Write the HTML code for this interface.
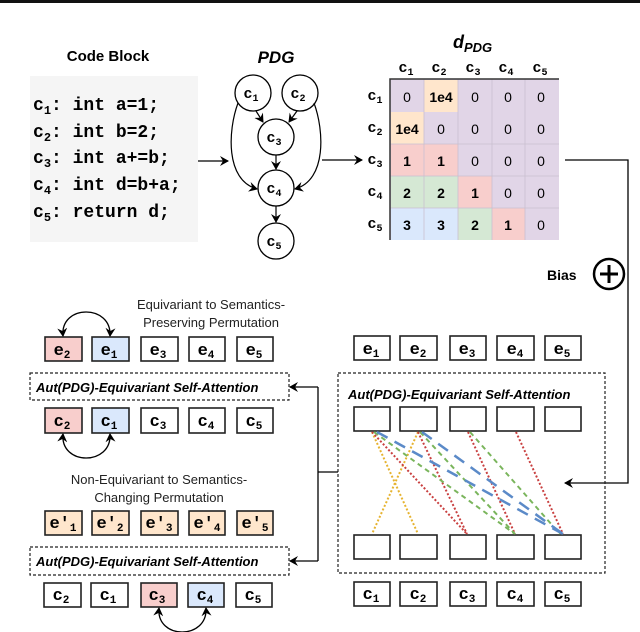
<!DOCTYPE html>
<html><head><meta charset="utf-8"><style>
html,body{margin:0;padding:0;background:#fff;}
svg{display:block}
.mono{font-family:"Liberation Mono",monospace;font-weight:bold}
.sans{font-family:"Liberation Sans",sans-serif}
</style></head><body>
<svg width="640" height="632" viewBox="0 0 640 632" xmlns="http://www.w3.org/2000/svg">
<defs>
<marker id="a" markerWidth="10" markerHeight="10" refX="8" refY="5" orient="auto-start-reverse" markerUnits="userSpaceOnUse">
<path d="M0,0 L9,5 L0,10 L3,5 z" fill="#000"/></marker>
</defs>
<rect x="0" y="0" width="640" height="3" fill="#111"/>
<!-- Code block -->
<text x="108" y="61" class="sans" font-weight="bold" font-size="15" text-anchor="middle">Code Block</text>
<rect x="30" y="76" width="168" height="166" fill="#f5f5f5"/>
<g class="mono" font-size="18">
<text x="33" y="110">c<tspan font-size="12" dy="4">1</tspan><tspan dy="-4">: int a=1;</tspan></text>
<text x="33" y="137">c<tspan font-size="12" dy="4">2</tspan><tspan dy="-4">: int b=2;</tspan></text>
<text x="33" y="163">c<tspan font-size="12" dy="4">3</tspan><tspan dy="-4">: int a+=b;</tspan></text>
<text x="33" y="190">c<tspan font-size="12" dy="4">4</tspan><tspan dy="-4">: int d=b+a;</tspan></text>
<text x="33" y="217">c<tspan font-size="12" dy="4">5</tspan><tspan dy="-4">: return d;</tspan></text>
</g>
<line x1="198" y1="161" x2="228" y2="161" stroke="#000" stroke-width="1.3" marker-end="url(#a)"/>
<!-- PDG -->
<text x="276" y="63" class="sans" font-weight="bold" font-style="italic" font-size="17" text-anchor="middle">PDG</text>
<g fill="#fff" stroke="#000" stroke-width="1.3">
<circle cx="253" cy="93" r="18"/><circle cx="300" cy="93" r="18"/>
<circle cx="276" cy="137" r="18"/><circle cx="276" cy="188" r="18"/><circle cx="276" cy="241" r="18"/>
</g>
<g class="mono" font-size="15" text-anchor="middle">
<text x="251" y="98">c<tspan font-size="10" dy="3">1</tspan></text>
<text x="298" y="98">c<tspan font-size="10" dy="3">2</tspan></text>
<text x="274" y="142">c<tspan font-size="10" dy="3">3</tspan></text>
<text x="274" y="193">c<tspan font-size="10" dy="3">4</tspan></text>
<text x="274" y="246">c<tspan font-size="10" dy="3">5</tspan></text>
</g>
<g stroke="#000" stroke-width="1.2" fill="none">
<line x1="256" y1="111" x2="263" y2="122" marker-end="url(#a)"/>
<line x1="297" y1="111" x2="289" y2="122" marker-end="url(#a)"/>
<line x1="276" y1="155" x2="276" y2="169" marker-end="url(#a)"/>
<line x1="276" y1="206" x2="276" y2="222" marker-end="url(#a)"/>
<path d="M238,103 C228,130 225,180 257,189" marker-end="url(#a)"/>
<path d="M314,103 C324,130 327,180 295,189" marker-end="url(#a)"/>
</g>
<line x1="322" y1="160" x2="362" y2="160" stroke="#000" stroke-width="1.3" marker-end="url(#a)"/>
<!-- Matrix -->
<text x="453" y="48" class="sans" font-weight="bold" font-style="italic" font-size="18">d<tspan font-size="13" dy="4">PDG</tspan></text>
<g class="mono" font-size="15" text-anchor="middle">
<text x="406" y="72">c<tspan font-size="10" dy="3">1</tspan></text>
<text x="439" y="72">c<tspan font-size="10" dy="3">2</tspan></text>
<text x="473" y="72">c<tspan font-size="10" dy="3">3</tspan></text>
<text x="506" y="72">c<tspan font-size="10" dy="3">4</tspan></text>
<text x="540" y="72">c<tspan font-size="10" dy="3">5</tspan></text>
<text x="375" y="100">c<tspan font-size="10" dy="3">1</tspan></text>
<text x="375" y="132">c<tspan font-size="10" dy="3">2</tspan></text>
<text x="375" y="164">c<tspan font-size="10" dy="3">3</tspan></text>
<text x="375" y="196">c<tspan font-size="10" dy="3">4</tspan></text>
<text x="375" y="228">c<tspan font-size="10" dy="3">5</tspan></text>
</g>
<rect x="390" y="79" width="169" height="161" fill="#e1d5e7"/>
<rect x="424" y="80" width="34" height="32" fill="#ffe6cc"/>
<rect x="391" y="112" width="33" height="32" fill="#ffe6cc"/>
<rect x="391" y="144" width="67" height="32" fill="#f8cecc"/>
<rect x="391" y="176" width="67" height="32" fill="#d5e8d4"/>
<rect x="458" y="176" width="34" height="32" fill="#f8cecc"/>
<rect x="391" y="208" width="67" height="32" fill="#dae8fc"/>
<rect x="458" y="208" width="34" height="32" fill="#d5e8d4"/>
<rect x="492" y="208" width="33" height="32" fill="#f8cecc"/>
<g stroke="#c9bfd0" stroke-width="0.8">
<line x1="424" y1="79" x2="424" y2="240"/><line x1="458" y1="79" x2="458" y2="240"/>
<line x1="492" y1="79" x2="492" y2="240"/><line x1="525" y1="79" x2="525" y2="240"/>
<line x1="390" y1="144" x2="559" y2="144"/><line x1="390" y1="176" x2="559" y2="176"/><line x1="390" y1="208" x2="559" y2="208"/>
</g>
<path d="M390,240 L390,79 L559,79" fill="none" stroke="#333" stroke-width="1.5"/>
<g class="sans" font-size="14" text-anchor="middle">
<text x="407" y="102">0</text><text x="441" y="102" font-weight="bold">1e4</text><text x="475" y="102">0</text><text x="508" y="102">0</text><text x="541" y="102">0</text>
<text x="407" y="134" font-weight="bold">1e4</text><text x="441" y="134">0</text><text x="475" y="134">0</text><text x="508" y="134">0</text><text x="541" y="134">0</text>
<text x="407" y="166" font-weight="bold">1</text><text x="441" y="166" font-weight="bold">1</text><text x="475" y="166">0</text><text x="508" y="166">0</text><text x="541" y="166">0</text>
<text x="407" y="198" font-weight="bold">2</text><text x="441" y="198" font-weight="bold">2</text><text x="475" y="198" font-weight="bold">1</text><text x="508" y="198">0</text><text x="541" y="198">0</text>
<text x="407" y="230" font-weight="bold">3</text><text x="441" y="230" font-weight="bold">3</text><text x="475" y="230" font-weight="bold">2</text><text x="508" y="230" font-weight="bold">1</text><text x="541" y="230">0</text>
</g>
<!-- Bias line -->
<path d="M565,160 L628,160 L628,483 L565,483" fill="none" stroke="#000" stroke-width="1.3" marker-end="url(#a)"/>
<circle cx="609" cy="274" r="15" fill="#fff" stroke="#000" stroke-width="2.5"/>
<path d="M600,274 H618 M609,265 V283" stroke="#000" stroke-width="3"/>
<text x="547" y="280" class="sans" font-weight="bold" font-size="14">Bias</text>
<!-- Left section -->
<g class="sans" font-size="13" text-anchor="middle" fill="#222">
<text x="211" y="309">Equivariant to Semantics-</text>
<text x="211" y="327">Preserving Permutation</text>
<text x="159" y="484">Non-Equivariant to Semantics-</text>
<text x="159" y="502">Changing Permutation</text>
</g>
<g stroke="#222" stroke-width="1.6">
<rect x="45" y="337" width="37" height="24" fill="#f8cecc"/>
<rect x="92" y="337" width="37" height="24" fill="#dae8fc"/>
<rect x="141" y="337" width="37" height="24" fill="#fff"/>
<rect x="189" y="337" width="36" height="24" fill="#fff"/>
<rect x="237" y="337" width="36" height="24" fill="#fff"/>
<rect x="45" y="408" width="37" height="25" fill="#f8cecc"/>
<rect x="92" y="408" width="37" height="25" fill="#dae8fc"/>
<rect x="141" y="408" width="37" height="25" fill="#fff"/>
<rect x="189" y="408" width="36" height="25" fill="#fff"/>
<rect x="237" y="408" width="36" height="25" fill="#fff"/>
<rect x="45" y="511" width="37" height="24" fill="#ffe6cc"/>
<rect x="92" y="511" width="37" height="24" fill="#ffe6cc"/>
<rect x="141" y="511" width="37" height="24" fill="#ffe6cc"/>
<rect x="189" y="511" width="36" height="24" fill="#ffe6cc"/>
<rect x="237" y="511" width="36" height="24" fill="#ffe6cc"/>
<rect x="44" y="583" width="37" height="24" fill="#fff"/>
<rect x="91" y="583" width="37" height="24" fill="#fff"/>
<rect x="141" y="583" width="36" height="24" fill="#f8cecc"/>
<rect x="188" y="583" width="36" height="24" fill="#dae8fc"/>
<rect x="236" y="583" width="36" height="24" fill="#fff"/>
</g>
<g class="mono" font-size="17" text-anchor="middle">
<text x="62" y="355">e<tspan font-size="11" dy="3">2</tspan></text>
<text x="109" y="355">e<tspan font-size="11" dy="3">1</tspan></text>
<text x="158" y="355">e<tspan font-size="11" dy="3">3</tspan></text>
<text x="206" y="355">e<tspan font-size="11" dy="3">4</tspan></text>
<text x="254" y="355">e<tspan font-size="11" dy="3">5</tspan></text>
<text x="62" y="426">c<tspan font-size="11" dy="3">2</tspan></text>
<text x="109" y="426">c<tspan font-size="11" dy="3">1</tspan></text>
<text x="158" y="426">c<tspan font-size="11" dy="3">3</tspan></text>
<text x="206" y="426">c<tspan font-size="11" dy="3">4</tspan></text>
<text x="254" y="426">c<tspan font-size="11" dy="3">5</tspan></text>
<text x="63" y="528">e'<tspan font-size="11" dy="3">1</tspan></text>
<text x="110" y="528">e'<tspan font-size="11" dy="3">2</tspan></text>
<text x="159" y="528">e'<tspan font-size="11" dy="3">3</tspan></text>
<text x="207" y="528">e'<tspan font-size="11" dy="3">4</tspan></text>
<text x="255" y="528">e'<tspan font-size="11" dy="3">5</tspan></text>
<text x="61" y="600">c<tspan font-size="11" dy="3">2</tspan></text>
<text x="108" y="600">c<tspan font-size="11" dy="3">1</tspan></text>
<text x="157" y="600">c<tspan font-size="11" dy="3">3</tspan></text>
<text x="205" y="600">c<tspan font-size="11" dy="3">4</tspan></text>
<text x="253" y="600">c<tspan font-size="11" dy="3">5</tspan></text>
</g>
<g stroke="#000" stroke-width="1.3" fill="none">
<path d="M63,336 C60,304 112,304 110,336" marker-start="url(#a)" marker-end="url(#a)"/>
<path d="M63,434 C60,466 112,466 110,434" marker-start="url(#a)" marker-end="url(#a)"/>
<path d="M159,608 C156,640 208,640 206,608" marker-start="url(#a)" marker-end="url(#a)"/>
</g>
<g stroke="#222" stroke-width="1.2" stroke-dasharray="3,2" fill="none">
<rect x="30" y="373" width="259" height="27"/>
<rect x="30" y="547" width="259" height="28"/>
<rect x="338" y="373" width="267" height="200"/>
</g>
<g class="sans" font-weight="bold" font-style="italic" font-size="13">
<text x="36" y="392">Aut(PDG)-Equivariant Self-Attention</text>
<text x="36" y="566">Aut(PDG)-Equivariant Self-Attention</text>
<text x="348" y="399">Aut(PDG)-Equivariant Self-Attention</text>
</g>
<g stroke="#000" stroke-width="1.3" fill="none">
<line x1="338" y1="472" x2="318" y2="472"/>
<path d="M318,387 L318,561"/>
<line x1="318" y1="387" x2="290" y2="387" marker-end="url(#a)"/>
<line x1="318" y1="561" x2="290" y2="561" marker-end="url(#a)"/>
</g>
<!-- Right section -->
<g stroke="#222" stroke-width="1.6" fill="#fff">
<rect x="354" y="336" width="36" height="24"/><rect x="400" y="336" width="37" height="24"/><rect x="450" y="336" width="36" height="24"/><rect x="497" y="336" width="37" height="24"/><rect x="545" y="336" width="36" height="24"/>
<rect x="354" y="407" width="36" height="24"/><rect x="400" y="407" width="37" height="24"/><rect x="450" y="407" width="36" height="24"/><rect x="497" y="407" width="37" height="24"/><rect x="545" y="407" width="36" height="24"/>
<rect x="354" y="535" width="36" height="24"/><rect x="400" y="535" width="37" height="24"/><rect x="450" y="535" width="36" height="24"/><rect x="497" y="535" width="37" height="24"/><rect x="545" y="535" width="36" height="24"/>
<rect x="354" y="582" width="36" height="24"/><rect x="400" y="582" width="37" height="24"/><rect x="450" y="582" width="36" height="24"/><rect x="497" y="582" width="37" height="24"/><rect x="545" y="582" width="36" height="24"/>
</g>
<g class="mono" font-size="17" text-anchor="middle">
<text x="371" y="354">e<tspan font-size="11" dy="3">1</tspan></text>
<text x="418" y="354">e<tspan font-size="11" dy="3">2</tspan></text>
<text x="467" y="354">e<tspan font-size="11" dy="3">3</tspan></text>
<text x="515" y="354">e<tspan font-size="11" dy="3">4</tspan></text>
<text x="562" y="354">e<tspan font-size="11" dy="3">5</tspan></text>
<text x="371" y="599">c<tspan font-size="11" dy="3">1</tspan></text>
<text x="418" y="599">c<tspan font-size="11" dy="3">2</tspan></text>
<text x="467" y="599">c<tspan font-size="11" dy="3">3</tspan></text>
<text x="515" y="599">c<tspan font-size="11" dy="3">4</tspan></text>
<text x="562" y="599">c<tspan font-size="11" dy="3">5</tspan></text>
</g>
<g fill="none" stroke-width="2">
<g stroke="#e6b330" stroke-dasharray="2,2">
<line x1="372" y1="432" x2="418" y2="534"/><line x1="418" y1="432" x2="372" y2="534"/>
</g>
<g stroke="#c94040" stroke-dasharray="2,2">
<line x1="372" y1="432" x2="467" y2="534"/><line x1="418" y1="432" x2="467" y2="534"/>
<line x1="468" y1="432" x2="515" y2="534"/><line x1="516" y1="432" x2="563" y2="534"/>
</g>
<g stroke="#7ab55c" stroke-dasharray="5,4">
<line x1="374" y1="432" x2="515" y2="534"/><line x1="420" y1="432" x2="515" y2="534"/>
<line x1="470" y1="432" x2="560" y2="534"/>
</g>
<g stroke="#5b8ac8" stroke-dasharray="12,8" stroke-width="2.5">
<line x1="377" y1="432" x2="563" y2="534"/><line x1="422" y1="432" x2="563" y2="534"/>
</g>
</g>
</svg>
</body></html>
